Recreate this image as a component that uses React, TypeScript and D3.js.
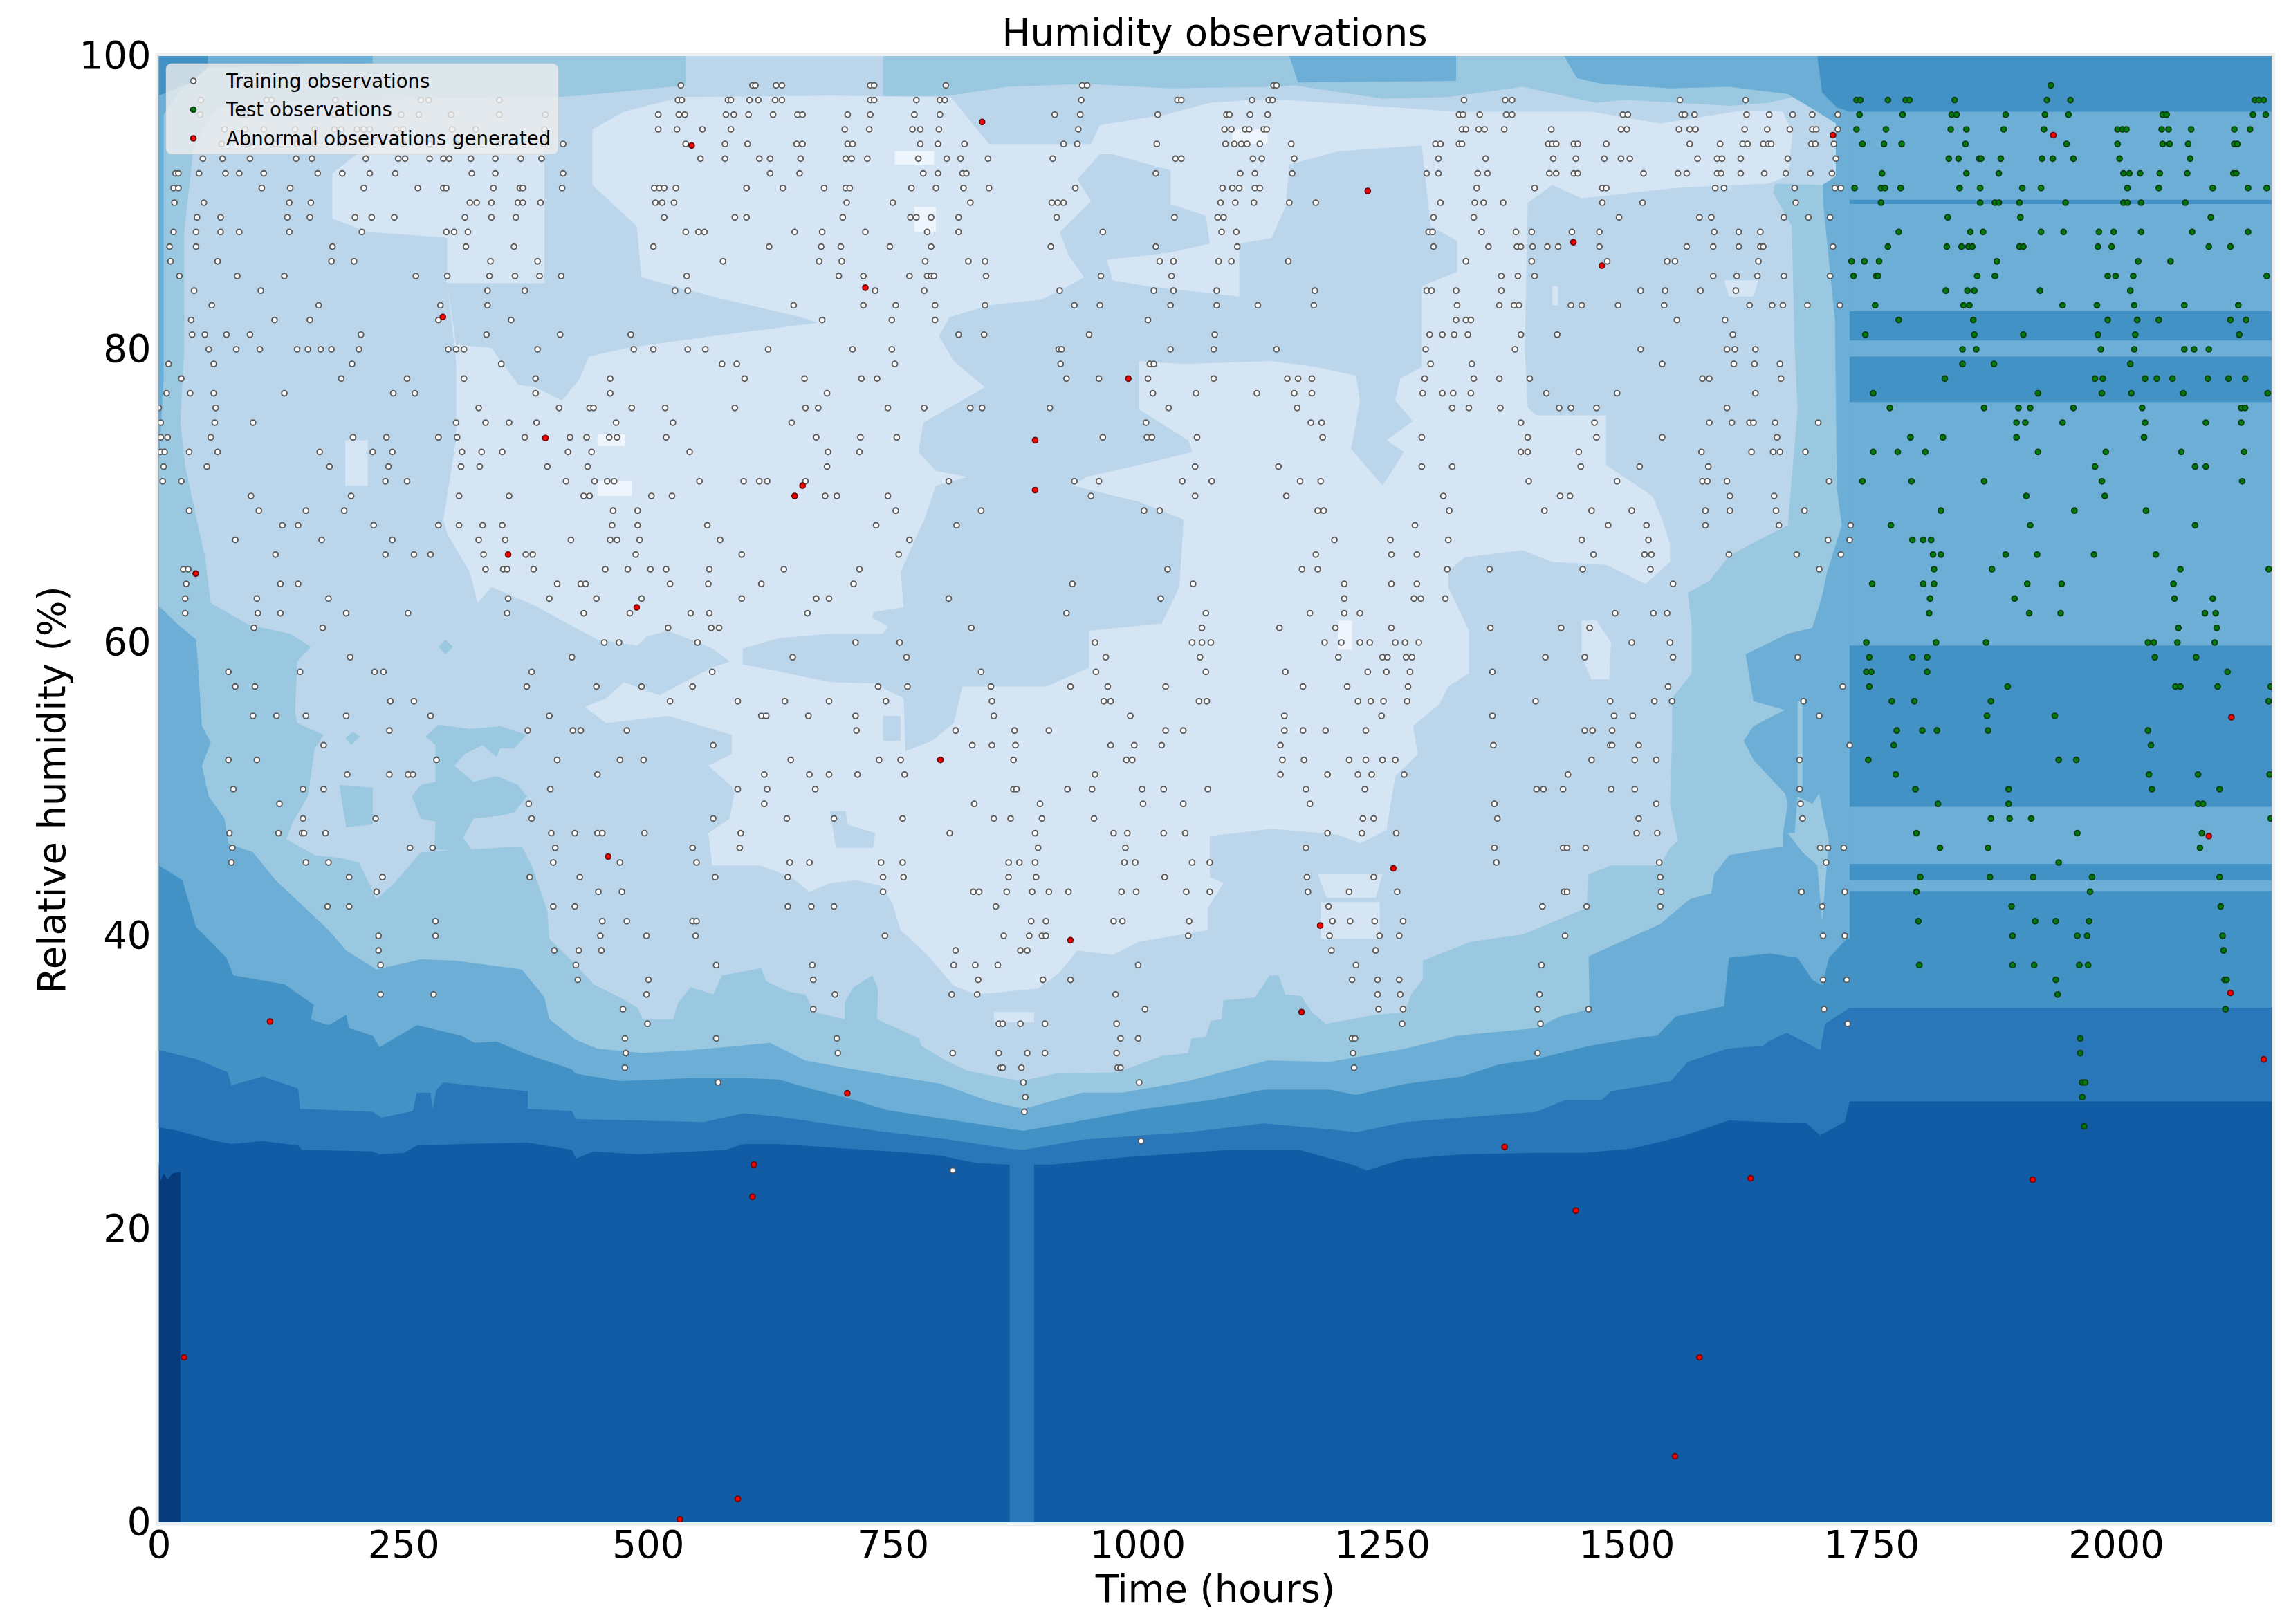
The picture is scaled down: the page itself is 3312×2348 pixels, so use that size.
import React, { useRef, useEffect } from 'react';
import * as d3 from 'd3';

type Pt = [number, number];
type Row = [number, number[]];

const xTicks = [0, 250, 500, 750, 1000, 1250, 1500, 1750, 2000];
const yTicks = [0, 20, 40, 60, 80, 100];
const legendLabels = ['Training observations', 'Test observations', 'Abnormal observations generated'];

// each row: relative humidity, then the hours it was seen at
const trainingRows: Row[] = [
  [98, [532, 605, 608, 629, 635, 725, 729, 802, 941, 946, 1136, 1139]],
  [97, [43, 110, 115, 180, 267, 275, 347, 529, 533, 580, 583, 602, 611, 628, 635, 725, 729, 772, 796, 801, 940, 1038, 1042, 1114, 1131, 1135, 1330, 1372, 1379, 1550, 1617]],
  [96, [42, 85, 89, 179, 247, 265, 298, 347, 394, 509, 530, 536, 578, 586, 601, 626, 651, 656, 702, 725, 770, 796, 913, 939, 1018, 1088, 1091, 1112, 1130, 1325, 1329, 1346, 1373, 1379, 1492, 1497, 1552, 1555, 1565, 1618, 1641, 1665, 1685, 1711]],
  [95, [67, 88, 107, 139, 159, 179, 186, 202, 209, 215, 242, 249, 299, 323, 393, 509, 528, 554, 583, 699, 724, 768, 776, 795, 937, 1086, 1093, 1107, 1111, 1126, 1129, 1328, 1332, 1345, 1351, 1371, 1419, 1490, 1496, 1549, 1560, 1566, 1616, 1639, 1662, 1685, 1689, 1711]],
  [94, [64, 91, 119, 141, 159, 187, 211, 249, 276, 303, 346, 392, 412, 537, 577, 600, 650, 656, 702, 707, 776, 794, 821, 922, 936, 1017, 1087, 1096, 1103, 1109, 1122, 1154, 1301, 1306, 1325, 1328, 1416, 1420, 1424, 1442, 1446, 1475, 1560, 1591, 1614, 1619, 1635, 1640, 1643, 1684, 1688, 1707]],
  [93, [45, 65, 93, 140, 156, 211, 244, 251, 276, 290, 296, 318, 343, 369, 390, 552, 577, 612, 623, 654, 700, 706, 722, 774, 803, 817, 845, 911, 1036, 1042, 1115, 1124, 1157, 1304, 1352, 1421, 1444, 1473, 1490, 1499, 1568, 1588, 1593, 1612, 1660, 1709]],
  [92, [17, 20, 41, 68, 82, 107, 162, 187, 215, 241, 319, 343, 412, 623, 653, 779, 794, 819, 823, 1016, 1102, 1117, 1155, 1292, 1304, 1344, 1354, 1417, 1424, 1442, 1446, 1513, 1548, 1557, 1588, 1592, 1612, 1636, 1658, 1683, 1705]],
  [91, [15, 20, 105, 134, 209, 264, 290, 293, 341, 368, 371, 411, 505, 510, 515, 527, 599, 636, 678, 700, 704, 767, 792, 820, 846, 934, 1084, 1094, 1101, 1117, 1122, 1343, 1402, 1471, 1475, 1586, 1595, 1667, 1708, 1714]],
  [90, [16, 46, 133, 155, 317, 324, 339, 366, 371, 389, 506, 513, 525, 701, 748, 827, 910, 916, 922, 1082, 1097, 1116, 1152, 1179, 1306, 1341, 1350, 1370, 1471, 1512, 1668]],
  [89, [39, 63, 131, 154, 200, 217, 240, 312, 339, 364, 515, 587, 599, 697, 766, 772, 787, 815, 915, 1035, 1079, 1085, 1299, 1340, 1488, 1570, 1582, 1656, 1681, 1703]],
  [88, [15, 38, 63, 82, 133, 207, 293, 301, 315, 537, 550, 556, 648, 676, 720, 783, 815, 962, 1083, 1098, 1294, 1298, 1348, 1383, 1399, 1440, 1468, 1585, 1610, 1632]],
  [87, [11, 38, 177, 313, 362, 504, 622, 675, 695, 745, 787, 909, 1016, 1099, 1299, 1355, 1384, 1388, 1400, 1415, 1426, 1468, 1557, 1584, 1610, 1632, 1635, 1706]],
  [86, [12, 60, 176, 199, 338, 386, 575, 673, 696, 781, 825, 842, 1020, 1034, 1080, 1093, 1151, 1332, 1399, 1476, 1537, 1545, 1630]],
  [85, [21, 80, 128, 262, 294, 337, 363, 388, 410, 538, 693, 718, 765, 783, 787, 790, 843, 960, 1032, 1368, 1385, 1402, 1584, 1608, 1629, 1656, 1703]],
  [84, [36, 104, 335, 373, 526, 539, 730, 780, 918, 1014, 1034, 1078, 1178, 1292, 1297, 1322, 1368, 1510, 1535, 1571, 1607]],
  [83, [54, 163, 287, 335, 647, 718, 751, 791, 842, 933, 959, 1031, 1078, 1120, 1177, 1323, 1366, 1381, 1386, 1439, 1450, 1487, 1534, 1621, 1644, 1655, 1680, 1713]],
  [82, [33, 118, 154, 285, 359, 676, 747, 791, 1008, 1322, 1332, 1337, 1547, 1596]],
  [81, [34, 47, 69, 93, 206, 334, 409, 481, 815, 841, 948, 1076, 1295, 1308, 1320, 1334, 1388, 1425, 1604]],
  [80, [51, 79, 103, 141, 152, 165, 176, 204, 295, 303, 311, 386, 484, 504, 539, 557, 621, 707, 747, 917, 920, 1031, 1075, 1139, 1291, 1382, 1510, 1598, 1606, 1627]],
  [79, [10, 56, 197, 349, 574, 589, 750, 919, 1010, 1014, 1296, 1338, 1532, 1605, 1626, 1652]],
  [78, [23, 186, 253, 311, 384, 460, 597, 658, 716, 732, 925, 958, 1008, 1075, 1150, 1161, 1175, 1290, 1340, 1366, 1397, 1573, 1580, 1653]],
  [77, [8, 32, 56, 128, 239, 261, 384, 460, 681, 1013, 1057, 1119, 1157, 1175, 1288, 1308, 1319, 1337, 1414, 1486, 1627]],
  [76, [0, 58, 326, 408, 439, 443, 482, 516, 587, 659, 672, 743, 780, 827, 839, 908, 1029, 1160, 1318, 1335, 1367, 1427, 1439, 1465, 1598]],
  [75, [2, 57, 96, 303, 333, 357, 385, 466, 524, 645, 1006, 1174, 1185, 1388, 1463, 1580, 1603, 1621, 1625, 1647, 1691]],
  [74, [2, 9, 53, 198, 232, 285, 304, 373, 419, 436, 459, 467, 517, 670, 715, 752, 962, 1007, 1012, 1058, 1186, 1287, 1395, 1465, 1532, 1649]],
  [73, [2, 6, 31, 60, 164, 218, 238, 309, 329, 350, 417, 441, 541, 682, 714, 1388, 1395, 1447, 1572, 1623, 1645, 1652, 1678]],
  [72, [5, 49, 174, 234, 308, 327, 396, 437, 681, 1056, 1141, 1287, 1318, 1449, 1509, 1579]],
  [71, [4, 23, 231, 253, 415, 444, 457, 464, 551, 596, 612, 620, 659, 805, 933, 958, 1043, 1073, 1163, 1184, 1396, 1486, 1573, 1578, 1598, 1702]],
  [70, [94, 196, 306, 357, 433, 439, 502, 523, 679, 691, 743, 950, 1056, 1149, 1309, 1428, 1438, 1601, 1646]],
  [69, [31, 102, 150, 189, 463, 488, 751, 838, 1004, 1020, 1181, 1187, 1315, 1412, 1460, 1501, 1576, 1601, 1648, 1677]],
  [68, [126, 142, 219, 285, 306, 330, 350, 462, 488, 559, 731, 813, 1280, 1477, 1516, 1576, 1651, 1724]],
  [67, [78, 166, 238, 326, 353, 420, 460, 467, 490, 572, 765, 1198, 1255, 1314, 1450, 1518, 1701, 1723]],
  [66, [119, 231, 260, 277, 331, 374, 381, 486, 594, 754, 1179, 1256, 1282, 1462, 1514, 1521, 1600, 1669, 1714]],
  [65, [25, 30, 333, 351, 355, 382, 455, 478, 501, 517, 561, 637, 714, 1028, 1165, 1181, 1313, 1356, 1451, 1520, 1692]],
  [64, [28, 124, 142, 406, 430, 435, 521, 560, 614, 708, 931, 1054, 1208, 1256, 1282, 1543]],
  [63, [27, 100, 173, 356, 398, 446, 492, 594, 670, 683, 805, 1021, 1208, 1279, 1286, 1311]],
  [62, [27, 101, 124, 191, 254, 355, 433, 480, 542, 561, 661, 925, 1067, 1173, 1208, 1224, 1484, 1523, 1537]],
  [61, [97, 167, 519, 563, 571, 828, 1063, 1142, 1199, 1256, 1357, 1429, 1458]],
  [60, [454, 469, 549, 710, 755, 954, 1053, 1063, 1072, 1188, 1205, 1224, 1234, 1260, 1270, 1284, 1501, 1540]],
  [59, [195, 421, 646, 762, 965, 1061, 1202, 1247, 1252, 1271, 1277, 1413, 1453, 1543, 1670]],
  [58, [71, 144, 220, 229, 380, 564, 838, 955, 1067, 1148, 1232, 1251, 1275, 1359]],
  [57, [78, 98, 375, 446, 492, 544, 733, 763, 848, 929, 967, 1026, 1166, 1211, 1273, 1538, 1716]],
  [56, [236, 260, 521, 590, 638, 683, 741, 849, 963, 970, 1060, 1068, 1222, 1235, 1248, 1272, 1403, 1479, 1524, 1542, 1676]],
  [55, [96, 120, 150, 191, 277, 398, 614, 619, 662, 710, 851, 990, 1147, 1246, 1359, 1483, 1502, 1692]],
  [54, [235, 376, 422, 430, 477, 711, 812, 872, 907, 1026, 1044, 1147, 1166, 1189, 1230, 1453, 1461, 1481]],
  [53, [168, 565, 829, 849, 873, 970, 994, 1022, 1143, 1360, 1479, 1481, 1508, 1723]],
  [52, [71, 100, 283, 406, 470, 494, 644, 734, 756, 871, 986, 992, 1145, 1167, 1213, 1230, 1247, 1260, 1460, 1504, 1526, 1672]],
  [51, [192, 235, 254, 259, 447, 617, 663, 683, 712, 760, 954, 1143, 1191, 1222, 1236, 1269, 1436]],
  [50, [76, 147, 168, 399, 590, 620, 669, 871, 874, 926, 951, 1002, 1024, 1069, 1169, 1229, 1404, 1411, 1431, 1480, 1504, 1672]],
  [49, [123, 377, 617, 831, 898, 1003, 1044, 1173, 1361, 1526, 1673]],
  [48, [147, 221, 380, 565, 640, 688, 758, 851, 868, 900, 953, 1227, 1238, 1364, 1508, 1675]],
  [47, [72, 122, 146, 148, 170, 400, 424, 447, 452, 495, 593, 806, 893, 973, 987, 1024, 1046, 1191, 1226, 1261, 1506, 1527]],
  [46, [75, 256, 279, 404, 544, 592, 896, 985, 1169, 1361, 1431, 1435, 1454, 1693, 1701, 1717]],
  [45, [74, 150, 173, 402, 470, 548, 643, 663, 736, 758, 866, 877, 893, 984, 995, 1053, 1071, 1363, 1529, 1699]],
  [44, [194, 228, 378, 429, 567, 641, 738, 759, 866, 894, 1025, 1170, 1238, 1530]],
  [43, [222, 448, 472, 738, 830, 836, 864, 890, 907, 927, 981, 996, 1047, 1071, 1171, 1213, 1262, 1432, 1435, 1531, 1674, 1718]],
  [42, [172, 194, 402, 424, 641, 665, 688, 853, 1192, 1410, 1455, 1530, 1695]],
  [41, [282, 452, 477, 544, 548, 889, 904, 973, 982, 1050, 1196, 1214, 1239, 1268]],
  [40, [224, 282, 450, 497, 547, 740, 861, 887, 900, 904, 1049, 1193, 1244, 1264, 1433, 1696, 1718]],
  [39, [224, 403, 428, 451, 812, 878, 885, 1195, 1240]],
  [38, [226, 425, 568, 666, 810, 832, 855, 998, 1220, 1409]],
  [37, [427, 499, 667, 835, 901, 929, 1216, 1242, 1264, 1696, 1720]],
  [36, [226, 280, 497, 689, 808, 834, 975, 1242, 1265, 1407]],
  [35, [473, 667, 1005, 1243, 1268, 1405, 1457, 1697]],
  [34, [498, 856, 860, 878, 903, 976, 1267, 1408, 1721]],
  [33, [475, 568, 691, 980, 998, 1216, 1219]],
  [32, [476, 692, 809, 856, 885, 903, 976, 1217, 1405]],
  [31, [475, 858, 860, 879, 977, 980, 1218]],
  [30, [570, 881, 999]],
  [29, [883]],
  [28, [882]],
  [26, [1001]],
  [24, [809]],
];

const testRows: Row[] = [
  [98, [1928]],
  [97, [1730, 1734, 1762, 1780, 1784, 1830, 1924, 1948, 2136, 2140, 2145]],
  [96, [1733, 1777, 1827, 1832, 1882, 1922, 1946, 2042, 2046, 2134, 2147]],
  [95, [1730, 1760, 1826, 1842, 1880, 1921, 1996, 2001, 2005, 2041, 2048, 2071, 2115, 2131]],
  [94, [1736, 1758, 1776, 1841, 1944, 1996, 2042, 2049, 2068, 2115, 2118]],
  [93, [1824, 1834, 1855, 1857, 1877, 1919, 1930, 1951, 1998, 2070]],
  [92, [1756, 1842, 1875, 2002, 2008, 2019, 2039, 2067, 2114, 2117]],
  [91, [1728, 1755, 1759, 1775, 1835, 1856, 1899, 1918, 2006, 2038, 2093, 2129, 2148]],
  [90, [1755, 1856, 1871, 1875, 1896, 1943, 2002, 2006, 2020, 2065]],
  [89, [1823, 1897, 2091]],
  [88, [1773, 1846, 1859, 1918, 1941, 1977, 1992, 2020, 2072, 2129]],
  [87, [1762, 1822, 1837, 1844, 1848, 1896, 1900, 1976, 1990, 2089, 2111]],
  [86, [1725, 1738, 1753, 1873, 2017, 2050]],
  [85, [1727, 1750, 1752, 1853, 1871, 1986, 1994, 2012, 2148]],
  [84, [1821, 1843, 1850, 1917, 2009]],
  [83, [1749, 1839, 1845, 1940, 1975, 2013, 2064, 2119]],
  [82, [1773, 1849, 1986, 2016, 2038, 2111, 2127]],
  [81, [1739, 1850, 1900, 1976, 2014, 2120]],
  [80, [1838, 1852, 1979, 2013, 2064, 2074, 2089]],
  [79, [1838, 1870, 2009]],
  [78, [1820, 1973, 1981, 2024, 2036, 2052, 2088, 2109, 2126]],
  [77, [1747, 1915, 1980, 2010, 2063, 2149]],
  [76, [1764, 1860, 1895, 1907, 1951, 2021, 2122, 2126]],
  [75, [1893, 1902, 1940, 2024, 2086, 2122]],
  [74, [1785, 1818, 1893, 2023]],
  [73, [1747, 1772, 1800, 1915, 1984, 2061, 2125]],
  [72, [1973, 2075, 2086]],
  [71, [1736, 1786, 1860, 1980, 2123]],
  [70, [1903, 1983]],
  [69, [1816, 1952, 2025]],
  [68, [1765, 1907, 2075]],
  [67, [1787, 1798, 1806]],
  [66, [1808, 1816, 1882, 1914, 1972, 2035]],
  [65, [1809, 1868, 2060, 2150]],
  [64, [1746, 1798, 1809, 1904, 1939, 2053]],
  [63, [1805, 1891, 2054, 2093]],
  [62, [1804, 1906, 1938, 2085, 2096]],
  [61, [2058, 2097]],
  [60, [1740, 1811, 1862, 2027, 2033, 2057, 2095]],
  [59, [1743, 1787, 1802, 2034, 2076]],
  [58, [1740, 1745, 1802, 2108]],
  [57, [1743, 1884, 2055, 2060, 2098, 2152]],
  [56, [1766, 1789, 1867, 2150]],
  [55, [1863, 1932]],
  [54, [1771, 1797, 1812, 1864, 2027]],
  [53, [1768, 2030]],
  [52, [1742, 1936, 1954]],
  [51, [1770, 2028, 2078, 2151]],
  [50, [1790, 1885, 2031, 2100]],
  [49, [1813, 1885, 2078, 2083]],
  [48, [1867, 1886, 1908, 2152]],
  [47, [1791, 1955, 2082]],
  [46, [1815, 1864, 2080]],
  [45, [1936]],
  [44, [1795, 1866, 1910, 1970, 2100]],
  [43, [1791, 1968]],
  [42, [1888, 2101]],
  [41, [1793, 1912, 1933, 1967]],
  [40, [1889, 1955, 1965, 2103]],
  [39, [2104]],
  [38, [1794, 1889, 1911, 1957, 1966]],
  [37, [1933, 2105, 2107]],
  [36, [1935]],
  [35, [2106]],
  [33, [1958]],
  [32, [1958]],
  [30, [1960, 1963]],
  [29, [1960]],
  [27, [1962]],
];

const abnormalPoints: Pt[] = [
  [543, 93.9], [289.5, 82.2], [394, 73.95], [656, 70.7], [648, 70], [839, 95.5], [1232, 90.8], [720, 84.2],
  [988, 78], [893, 73.8], [893, 70.4], [1706, 94.6], [1930.5, 94.6], [1441.5, 87.3], [1470.5, 85.7],
  [37.7, 64.7], [356, 66], [487, 62.4], [458, 45.4], [796.5, 52], [1258, 44.6], [1183.5, 40.7], [929, 39.7],
  [2112, 54.9], [2089, 46.8], [2111, 36.1], [113.4, 34.15], [606.4, 24.4], [605, 22.2], [701.6, 29.26],
  [1164.5, 34.8], [1371.4, 25.6], [1622, 23.46], [1909.5, 23.37], [1444, 21.26], [2145, 31.57],
  [25.8, 11.25], [1570, 11.25], [1545, 4.5], [590, 1.6], [531, 0.2],
];

const edgeLevel1: Pt[] = [
  [0, 26.95], [20, 26.7], [52, 26.1], [74, 25.8], [106, 26], [142, 25.7], [146, 25.4], [218, 25.3], [225, 25.1], [250, 25.2],
  [263, 25.7], [308, 25.8], [376, 25.9], [421, 25.4], [425, 24.8], [443, 25.3], [488, 25.1], [578, 25.4], [596, 25.8], [632, 25.8],
  [699, 25.5], [757, 25.25], [797, 25], [833, 24.5], [863, 24.4], [910, 24.4], [986, 24.9], [1049, 25.2], [1090, 25.4], [1162, 25.4],
  [1216, 24.4], [1231, 24], [1270, 24.8], [1328, 25.1], [1404, 25.2], [1453, 25.2], [1502, 25.5], [1551, 26.3], [1600, 27.4], [1679, 27.2],
  [1693, 26.4], [1718, 27.3], [1723, 28.7], [2153, 28.7],
];
const edgeLevel2: Pt[] = [
  [0, 32.2], [38, 31.6], [70, 30.7], [74, 29.8], [106, 30.4], [142, 29.6], [144, 28.2], [218, 28], [227, 27.6], [259, 28.05], [263, 29.3],
  [277, 29.3], [279, 28.2], [283, 29.5], [290, 30], [376, 29.4], [376, 28.2], [421, 28.05], [425, 27.5], [556, 27.3], [596, 27.9], [632, 27.66],
  [699, 27], [743, 26.6], [806, 26.1], [865, 25.5], [881, 25.4], [941, 26.1], [1049, 26.6], [1126, 27.2], [1193, 26.8], [1220, 26.6], [1270, 27.3],
  [1404, 28], [1433, 28.8], [1470, 28.8], [1480, 29.4], [1541, 30.1], [1558, 31.4], [1598, 32.3], [1635, 32.5], [1640, 32.8], [1659, 33.4],
  [1693, 32.2], [1698, 34], [1723, 35.1], [2153, 35.1],
];
const edgeLevel3: Pt[] = [
  [0, 44.8], [24, 43.8], [38, 40.6], [69, 38.5], [76, 37.3], [128, 36.7], [158, 35.3], [155, 34.3], [173, 33.9], [191, 34.6], [194, 33.7], [218, 33.2],
  [225, 32.4], [263, 33.9], [308, 33.2], [322, 32.7], [344, 32.8], [376, 31.9], [421, 30.9], [425, 30.6], [470, 30.1], [542, 30.3], [596, 30.3], [632, 30.2],
  [668, 29.5], [699, 29], [743, 28.1], [811, 27.4], [881, 26.7], [941, 27.4], [1004, 28.2], [1072, 28.8], [1126, 29.5], [1193, 29.5], [1220, 29.15],
  [1270, 29.9], [1328, 30.4], [1364, 31.2], [1404, 31.6], [1458, 32.5], [1502, 33], [1527, 33.2], [1546, 34.5], [1595, 35.2], [1598, 37.3], [1600, 38.5],
  [1642, 38.8], [1670, 38.5], [1685, 37], [1695, 36.6], [1702, 38.5], [1720, 39.8], [1723, 39.8], [1723, 96.2], [1710, 96.5], [1695, 97.5], [1690, 100],
  [50, 100], [50, 98.5], [25, 98], [8, 97.5], [0, 97.3],
];
const edgeLevel4: Pt[] = [
  [0, 62.5], [20, 61.2], [38, 60.2], [40, 58.5], [44, 54.3], [53, 53.2], [44, 51.6], [51, 49.5], [67, 48], [71, 46.3], [96, 45.7], [119, 43.8], [146, 42.1],
  [173, 40.4], [191, 39], [222, 37.7], [267, 38.4], [303, 38.3], [370, 37.7], [393, 35.8], [398, 34.3], [425, 32.9], [447, 32.3], [493, 32], [542, 32.2],
  [592, 32.5], [623, 32.7], [659, 31.5], [699, 31], [743, 30.5], [797, 29.9], [847, 28.7], [881, 28.2], [941, 29.3], [982, 29.3], [1049, 30.1], [1130, 31.5],
  [1193, 31.4], [1270, 32.3], [1324, 33.2], [1404, 33.7], [1428, 34.5], [1458, 35], [1457, 38.6], [1490, 39.6], [1530, 40.8], [1560, 42.5], [1582, 42.9],
  [1585, 44.2], [1600, 45.5], [1655, 46.1], [1655, 47], [1660, 49], [1657, 49.7], [1625, 52], [1615, 53.3], [1625, 54.3], [1657, 55.4], [1625, 56], [1617, 59.2],
  [1660, 60.6], [1685, 61], [1695, 63.2], [1700, 64.8], [1715, 68], [1710, 70.5], [1708, 82], [1696, 90], [1695, 94.7], [1685, 96.4], [1660, 97.4], [1600, 97.9],
  [1540, 97.8], [1470, 98.1], [1445, 98.5], [1432, 100], [1322, 100], [1322, 98.3], [1161, 98.2], [1152, 100], [218, 100], [218, 99.5], [50, 99.2], [20, 97.5],
  [5, 96], [5, 78], [0, 72],
];
const edgeLevel5: Pt[] = [
  [40, 68], [47, 65.9], [53, 62.7], [92, 61.2], [134, 60.6], [155, 59.7], [141, 58.7], [139, 55.3], [141, 54.5], [168, 53.7], [159, 52.8], [152, 49.5], [137, 47.8],
  [130, 46.6], [159, 45.5], [186, 45.3], [204, 45], [222, 42.5], [240, 43.6], [267, 45.7], [370, 46.1], [380, 44.8], [396, 41.7], [398, 39.8], [424, 38.1], [443, 36.7],
  [470, 35.8], [488, 35.1], [493, 34.3], [524, 34.3], [529, 35.4], [542, 36.5], [565, 36], [574, 37.3], [614, 37.8], [619, 36.9], [641, 36.2], [659, 36], [668, 34.8],
  [699, 34.3], [699, 35.5], [708, 36.5], [727, 37.3], [733, 36.4], [732, 34.3], [752, 33.7], [775, 33], [777, 32.5], [802, 31.5], [824, 30.8], [878, 30.1], [914, 30.6],
  [977, 30.7], [1022, 31.8], [1049, 32], [1052, 33], [1067, 33.1], [1072, 34.2], [1083, 34.3], [1085, 35.6], [1117, 35.8], [1132, 37.3], [1141, 37.3], [1148, 36],
  [1164, 35.9], [1175, 34.8], [1189, 34], [1216, 34.3], [1238, 34.6], [1270, 34.8], [1276, 36], [1288, 37], [1288, 38.3], [1337, 39.6], [1390, 40.1], [1455, 41.9],
  [1457, 44.2], [1480, 44.8], [1530, 44.8], [1540, 46], [1548, 46.5], [1540, 49], [1542, 53.3], [1542, 56.2], [1562, 57.9], [1562, 61.3], [1558, 63.4], [1580, 64.2],
  [1600, 65.9], [1622, 66.7], [1660, 68], [1670, 75.9], [1667, 80], [1664, 88.4], [1645, 90.7], [1647, 91.3], [1695, 91.2], [1709, 91.8], [1709, 95.4], [1690, 96.2],
  [1665, 97.2], [1640, 96.8], [1600, 96.6], [1550, 96.8], [1495, 97], [1465, 96.8], [1390, 97.9], [1314, 97.2], [1247, 97.1], [1157, 98], [1134, 97.9], [1031, 97.8],
  [945, 98.1], [864, 97.9], [806, 97.3], [738, 97.2], [738, 100], [537, 100], [537, 98], [429, 97.3], [406, 97.2], [150, 97], [60, 96.5], [45, 95], [35, 93.5], [26, 88],
  [26, 80], [22, 75], [27, 72],
];
const edgeLevel6: Pt[] = [
  [177, 92], [215, 94], [393, 94], [442, 95], [474, 96.2], [533, 97.2], [684, 97.3], [806, 97.2], [1150, 97], [1323, 96.2], [1460, 96.2], [1530, 95.4], [1615, 96.3],
  [1655, 96.2], [1665, 94.7], [1660, 91.8], [1640, 91.3], [1545, 91], [1450, 90.3], [1420, 91.2], [1395, 90], [1392, 80], [1395, 76], [1404, 75.5], [1475, 75.5],
  [1475, 72.1], [1522, 70], [1532, 68.4], [1540, 66.7], [1540, 65.5], [1515, 64], [1475, 65.3], [1420, 65.5], [1390, 66.3], [1330, 65.8], [1314, 64.8], [1314, 63.8],
  [1335, 60.8], [1335, 57.9], [1314, 57], [1305, 55.8], [1278, 54.3], [1283, 52.4], [1260, 50.9], [1256, 49.3], [1251, 47.2], [1224, 46.3], [1202, 46.9], [1134, 47.3],
  [1071, 46.8], [1071, 44], [1085, 43.6], [1069, 41.9], [1069, 40.4], [999, 39.6], [972, 38.7], [936, 39], [918, 37.5], [896, 36.4], [864, 36.2], [833, 36], [810, 36.6],
  [783, 38.7], [756, 40.4], [747, 42.3], [736, 43.4], [711, 43.8], [684, 43.6], [663, 43], [645, 44], [613, 44.8], [564, 44.8], [560, 47], [582, 48], [587, 50], [560, 51.6],
  [584, 52.4], [584, 53.7], [519, 55], [456, 54.5], [434, 55.6], [456, 56.2], [474, 57.3], [510, 56.4], [541, 57.5], [564, 58.3], [582, 58.7], [564, 59.6], [519, 60.8],
  [497, 60.4], [488, 59.8], [447, 60.2], [411, 61.5], [384, 62.5], [339, 63.8], [325, 62.7], [317, 64.8], [294, 67.4], [290, 68.4], [303, 73.8], [303, 79.2], [294, 84.5],
  [294, 87.6], [258, 87.8], [213, 88], [177, 88.9],
];

// pockets that sit on top of the nested levels
const pocketsLevel4: Pt[][] = [
  [[272, 53.6], [285, 54.4], [317, 54.1], [348, 54.3], [375, 53.7], [362, 52.8], [348, 52.8], [344, 52.2], [330, 53], [312, 52.4], [301, 51.6], [321, 50.5], [344, 50.9],
    [366, 50.3], [375, 49.5], [362, 48.4], [348, 48.2], [321, 48], [310, 46.7], [321, 45.7], [281, 45.9], [282, 47.8], [267, 48], [258, 49.5], [267, 50.3], [282, 50.5], [282, 53]],
  [[184, 50.3], [218, 50.1], [218, 47.6], [191, 47.4]],
  [[285, 59.7], [292, 60.2], [300, 59.7], [292, 59.2]],
  [[190, 53.5], [198, 53.9], [205, 53.6], [196, 53]],
  [[1667, 47], [1670, 49.5], [1685, 49], [1692, 49.7], [1697, 48], [1702, 46.5], [1700, 45], [1695, 41], [1690, 44.8], [1675, 45.7], [1660, 47]],
  [[1670, 56], [1675, 56], [1675, 50], [1670, 50]],
];
const pocketsLevel5: Pt[][] = [
  [[806, 97.3], [846, 94], [950, 94], [959, 95.3], [1026, 96], [1071, 96.8], [1150, 97.2]],
  [[393, 93.9], [442, 95.1], [442, 91.2], [487, 88.4], [492, 84.9], [564, 83.6], [654, 82.2], [672, 81.8], [564, 80.9], [478, 80.1], [438, 79.5], [429, 78], [411, 76.5],
    [384, 77.4], [366, 77.6], [339, 80.1], [303, 80.3], [294, 84.5], [393, 84.5]],
  [[959, 93.3], [972, 93.3], [1031, 92.2], [1031, 89.9], [1067, 89.1], [1071, 87.2], [1031, 86.6], [966, 86.1], [972, 84.7], [1008, 84.3], [1101, 83.6], [1101, 87.2], [1134, 87.6],
    [1148, 89.7], [1152, 92.6], [1202, 93.5], [1287, 93.9], [1296, 88.4], [1323, 87.4], [1323, 85.3], [1287, 84.3], [1287, 78.8], [1265, 78], [1260, 76.5], [1278, 75.1], [1251, 73.8],
    [1269, 73], [1247, 70.7], [1215, 73.2], [1224, 76.5], [1220, 78.2], [1179, 78.8], [1134, 79.2], [1044, 79], [999, 79.2], [999, 75.9], [1049, 73.8], [1053, 73], [999, 72.1],
    [945, 71.3], [932, 70.7], [999, 69.6], [1044, 68.4], [1044, 68], [1040, 63.8], [1022, 61.3], [948, 60.8], [948, 58.3], [905, 57], [819, 57], [810, 54.5], [788, 53.3], [761, 52.6],
    [759, 56.2], [729, 57.2], [684, 57.3], [627, 58.1], [595, 58.5], [595, 59.6], [632, 60.3], [684, 60.6], [738, 60.6], [743, 61.1], [727, 61.7], [729, 62.1], [759, 62.4], [756, 64.8],
    [777, 68], [779, 68.2], [792, 70.7], [824, 71.3], [792, 71.7], [774, 73], [779, 75], [842, 77.4], [810, 79.2], [795, 80.9], [806, 82.2], [846, 83], [900, 83.4], [918, 84], [943, 84.9],
    [927, 86.4], [918, 88], [950, 90.1], [936, 91.6]],
  [[684, 48.5], [700, 48.5], [702, 47.6], [730, 47], [728, 46], [690, 46]],
  [[738, 55], [756, 55], [756, 53.3], [738, 53.3]],
];
const pocketsLevel6: Pt[][] = [
  [[190, 73.8], [213, 73.8], [213, 70.7], [190, 70.7]],
  [[1420, 84.3], [1426, 84.3], [1426, 83], [1420, 83]],
  [[1595, 84.7], [1630, 84.7], [1625, 83.6], [1600, 83.6]],
  [[1450, 61.5], [1465, 61.5], [1480, 60], [1478, 57.5], [1460, 57.5], [1450, 59]],
  [[1181, 44.2], [1247, 44.2], [1240, 42.6], [1190, 42.6]],
  [[1184, 42.3], [1244, 42.3], [1244, 39.8], [1184, 39.8]],
  [[851, 34.8], [892, 34.8], [892, 34.1], [851, 34.1]],
];
const pocketsLevel7: Pt[][] = [
  [[750, 93.5], [790, 93.5], [790, 92.6], [750, 92.6]],
  [[770, 89.7], [792, 89.7], [792, 88], [770, 88]],
  [[1094, 95], [1130, 95], [1130, 94], [1094, 94]],
  [[447, 74.2], [475, 74.2], [475, 73.4], [447, 73.4]],
  [[447, 71], [482, 71], [482, 70], [447, 70]],
  [[1202, 61.5], [1216, 61.5], [1216, 59.5], [1202, 59.5]],
];

// lighter stripes in the test period, [low, high] humidity
const testLightBands: Pt[] = [[43.05, 43.8], [44.9, 48.8], [59.8, 76.4], [79.5, 80.6], [82.6, 89.9], [90.2, 96.2]];

const levelColors = ['#083b7c', '#115ca5', '#2977b8', '#4392c6', '#6caed6', '#9ac8e0', '#bbd6eb', '#d5e5f4', '#eef5fc'];

// hours above were read against a 2153h axis, the tick labels put the end of it at 2159h
const maxRead = 2153;
const maxHours = 2159;
const readToHours = maxHours / maxRead;

const App = () => {
  const ref = useRef<SVGSVGElement>(null);

  useEffect(() => {
    const svg = d3.select(ref.current);
    svg.selectAll('*').remove();

    const left = 229.5, right = 3284, top = 81, bottom = 2201;
    const x = d3.scaleLinear().domain([0, maxHours]).range([left, right]);
    const y = d3.scaleLinear().domain([0, 100]).range([bottom, top]);
    const font = 'DejaVu Sans';
    const textSize = 54.5;
    const outline = d3.line<Pt>().x(d => x(d[0] * readToHours)).y(d => y(d[1]));

    const defs = svg.append('defs');
    defs.append('clipPath').attr('id', 'plotArea').append('rect')
      .attr('x', left).attr('y', top).attr('width', right - left).attr('height', bottom - top);

    // Light frame around the axes
    svg.append('rect')
      .attr('x', left - 5).attr('y', top - 5)
      .attr('width', right - left + 10).attr('height', bottom - top + 10)
      .attr('fill', '#eeeff0');

    const plot = svg.append('g').attr('clip-path', 'url(#plotArea)');
    const fillShape = (pts: Pt[], color: string) =>
      plot.append('path').attr('d', outline(pts) + 'Z').attr('fill', color);
    const fillBox = (t0: number, t1: number, h0: number, h1: number, color: string) =>
      fillShape([[t0, h0], [t1, h0], [t1, h1], [t0, h1]], color);

    // Contour levels, painted darkest first
    fillBox(0, maxRead, 0, 100, levelColors[1]);
    fillShape([[0, 0], [22, 0], [22, 23.9], [14, 23.8], [9, 23.4], [5, 23.8], [2, 23.3], [0, 24.5]], levelColors[0]);
    fillShape([...edgeLevel1, [maxRead, 100], [0, 100]], levelColors[2]);
    fillBox(867, 892, 0, 25.5, levelColors[2]);
    fillShape([...edgeLevel2, [maxRead, 100], [0, 100]], levelColors[3]);
    fillShape(edgeLevel3, levelColors[4]);
    testLightBands.forEach(b => fillBox(1723, maxRead, b[0], b[1], levelColors[4]));
    fillShape(edgeLevel4, levelColors[5]);
    fillShape(edgeLevel5, levelColors[6]);
    pocketsLevel4.forEach(p => fillShape(p, levelColors[5]));
    fillShape(edgeLevel6, levelColors[7]);
    pocketsLevel5.forEach(p => fillShape(p, levelColors[6]));
    pocketsLevel6.forEach(p => fillShape(p, levelColors[7]));
    pocketsLevel7.forEach(p => fillShape(p, levelColors[8]));

    // Observations
    const flatten = (rows: Row[]): Pt[] => rows.flatMap(([h, hours]) => hours.map(t => [t, h] as Pt));
    const scatter = (pts: Pt[], fill: string, stroke: string) =>
      plot.append('g').selectAll('circle').data(pts).join('circle')
        .attr('cx', d => x(d[0] * readToHours))
        .attr('cy', d => y(d[1]))
        .attr('r', 3.9)
        .attr('fill', fill)
        .attr('stroke', stroke)
        .attr('stroke-width', 1.9);
    scatter(flatten(trainingRows), '#ffffff', '#5a5a5a');
    scatter(flatten(testRows), '#007a0a', '#0b3d12');
    scatter(abnormalPoints, '#ff0000', '#6b0a0a');

    // Axes
    const xAxis = svg.append('g')
      .attr('transform', `translate(0,${bottom})`)
      .call(d3.axisBottom(x).tickValues(xTicks).tickFormat(d3.format('d')).tickSize(0).tickPadding(12));
    const yAxis = svg.append('g')
      .attr('transform', `translate(${left},0)`)
      .call(d3.axisLeft(y).tickValues(yTicks).tickFormat(d3.format('d')).tickSize(0).tickPadding(11));
    [xAxis, yAxis].forEach(axis => {
      axis.select('.domain').remove();
      axis.selectAll('text').attr('font-size', textSize).attr('font-family', font).attr('fill', '#000');
    });

    svg.append('text')
      .attr('x', 1756).attr('y', 66)
      .attr('text-anchor', 'middle').attr('font-size', textSize).attr('font-family', font)
      .text('Humidity observations');
    svg.append('text')
      .attr('x', 1757).attr('y', 2316)
      .attr('text-anchor', 'middle').attr('font-size', textSize).attr('font-family', font)
      .text('Time (hours)');
    svg.append('text')
      .attr('transform', 'translate(94,1142) rotate(-90)')
      .attr('text-anchor', 'middle').attr('font-size', textSize).attr('font-family', font)
      .text('Relative humidity (%)');

    // Legend
    const legend = svg.append('g');
    legend.append('rect')
      .attr('x', 240).attr('y', 92).attr('width', 567).attr('height', 131).attr('rx', 8)
      .attr('fill', '#eeeeee').attr('fill-opacity', 0.8).attr('stroke', '#cccccc').attr('stroke-opacity', 0.5);
    const legendFills = ['#ffffff', '#007a0a', '#ff0000'];
    const legendStrokes = ['#5a5a5a', '#0b3d12', '#6b0a0a'];
    legendLabels.forEach((label, i) => {
      const rowY = 117 + i * 41.5;
      legend.append('circle')
        .attr('cx', 279.5).attr('cy', rowY).attr('r', 3.9)
        .attr('fill', legendFills[i]).attr('stroke', legendStrokes[i]).attr('stroke-width', 1.9);
      legend.append('text')
        .attr('x', 327).attr('y', rowY + 9.5)
        .attr('font-size', 27.5).attr('font-family', font).attr('fill', '#000')
        .text(label);
    });
  }, []);

  return <svg ref={ref} width={3312} height={2348} style={{ position: 'absolute', left: 0, top: 0, background: '#fff' }} />;
};

export default App;
